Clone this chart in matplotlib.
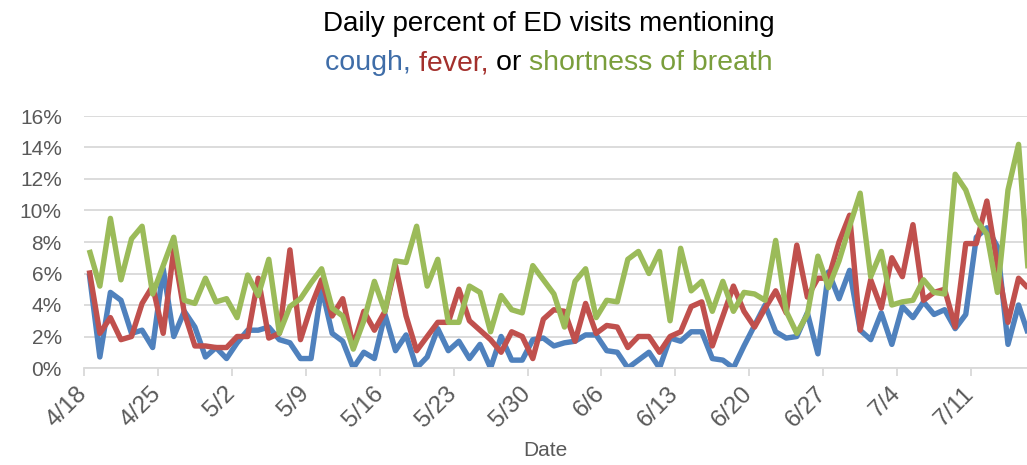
import pandas as pd
import matplotlib
matplotlib.use("Agg")
import matplotlib.pyplot as plt

plt.rcParams["font.family"] = ["Liberation Sans", "DejaVu Sans"]

START = "2020-04-18"

# daily % of ED visits (4/18 onward)
cough = [6.0, 0.7, 4.8, 4.3, 2.2, 2.4, 1.3, 6.3, 2.0, 3.6,
         2.6, 0.7, 1.3, 0.6, 1.6, 2.4, 2.4, 2.6, 1.8, 1.6,
         0.6, 0.6, 5.1, 2.2, 1.7, 0.0, 1.0, 0.6, 3.4, 1.1,
         2.1, 0.0, 0.7, 2.5, 1.1, 1.7, 0.6, 1.5, 0.0, 2.0,
         0.5, 0.5, 1.8, 1.9, 1.4, 1.6, 1.7, 2.1, 2.1, 1.1,
         1.0, 0.0, 0.5, 1.0, 0.0, 1.9, 1.7, 2.3, 2.3, 0.6,
         0.5, 0.0, 1.4, 2.7, 4.0, 2.3, 1.9, 2.0, 3.5, 0.9,
         6.1, 4.4, 6.2, 2.4, 1.8, 3.5, 1.5, 3.9, 3.2, 4.2,
         3.4, 3.7, 2.5, 3.4, 8.3, 8.9, 7.7, 1.5, 4.0, 2.0]
fever = [6.2, 2.2, 3.2, 1.8, 2.0, 4.1, 5.2, 2.2, 7.5, 3.5,
         1.4, 1.4, 1.3, 1.3, 2.0, 2.0, 5.7, 1.9, 2.2, 7.5,
         1.8, 3.9, 5.6, 3.3, 4.4, 1.4, 3.6, 2.4, 3.6, 6.5,
         3.3, 1.1, 2.0, 2.9, 2.9, 5.0, 3.0, 2.4, 1.8, 1.0,
         2.3, 2.0, 0.6, 3.1, 3.7, 3.6, 1.7, 4.1, 2.2, 2.7,
         2.6, 1.3, 2.0, 2.0, 1.0, 2.0, 2.3, 3.9, 4.2, 1.4,
         3.3, 5.2, 3.6, 2.6, 3.8, 4.9, 3.5, 7.8, 4.5, 5.7,
         5.7, 8.0, 9.7, 2.4, 5.6, 3.8, 7.0, 5.8, 9.1, 4.3,
         4.8, 5.0, 2.6, 7.9, 7.9, 10.6, 6.5, 2.9, 5.7, 5.0]
breath = [7.5, 5.2, 9.5, 5.6, 8.2, 9.0, 4.7, 6.5, 8.3, 4.3,
          4.1, 5.7, 4.2, 4.4, 3.2, 5.9, 4.6, 6.9, 2.2, 3.9,
          4.4, 5.4, 6.3, 3.8, 3.3, 1.2, 3.0, 5.5, 3.6, 6.8,
          6.7, 9.0, 5.2, 6.9, 2.9, 2.9, 5.2, 4.8, 2.3, 4.6,
          3.7, 3.5, 6.5, 5.6, 4.7, 2.6, 5.5, 6.3, 3.2, 4.3,
          4.2, 6.9, 7.4, 6.0, 7.4, 3.0, 7.6, 4.9, 5.5, 3.6,
          5.5, 3.6, 4.8, 4.7, 4.3, 8.1, 3.6, 2.2, 3.4, 7.1,
          5.1, 6.8, 9.0, 11.1, 5.8, 7.4, 4.0, 4.2, 4.3, 5.6,
          4.8, 4.7, 12.3, 11.3, 9.4, 8.5, 4.8, 11.3, 14.2, 5.4]

tick_labels = ["4/18", "4/25", "5/2", "5/9", "5/16", "5/23", "5/30",
               "6/6", "6/13", "6/20", "6/27", "7/4", "7/11"]
y_ticks = [0, 2, 4, 6, 8, 10, 12, 14, 16]

BLUE, RED, GREEN = "#4F81BD", "#C0504D", "#9BBB59"
TXT_BLUE, TXT_RED, TXT_GREEN = "#3F6DA8", "#A3302C", "#7A9E3C"
GRAY = "#595959"

days = pd.date_range(START, periods=len(cough), freq="D")
x = days + pd.Timedelta(hours=12)  # points sit mid-day, like Excel
ticks = pd.date_range(START, periods=len(tick_labels), freq="7D")

W, H = 1027, 465
fig = plt.figure(figsize=(W / 100, H / 100), dpi=100)
ax = fig.add_axes([84 / W, 1 - 368 / H, 1 - 84 / W, (368 - 116) / H])

for vals, c in ((cough, BLUE), (fever, RED), (breath, GREEN)):
    ax.plot(x, vals, color=c, lw=3.9, solid_capstyle="butt")

ax.set_xlim(days[0], days[0] + pd.Timedelta(days=89.3))
ax.set_ylim(0, 16)
ax.set_yticks(y_ticks)
ax.set_yticklabels([f"{v}%" for v in y_ticks])
ax.set_xticks(ticks)
ax.set_xticklabels(tick_labels, rotation=45, ha="right", va="center",
                   rotation_mode="anchor")

ax.yaxis.grid(True, color="#D9D9D9", lw=1.3)
ax.set_axisbelow(True)
for s in ("top", "right", "left"):
    ax.spines[s].set_visible(False)
ax.spines["bottom"].set_color("#D9D9D9")
ax.spines["bottom"].set_linewidth(1.3)
ax.tick_params(axis="y", length=0, pad=16, labelsize=15, labelcolor=GRAY)
ax.tick_params(axis="x", length=6, width=1.3, color="#D9D9D9", pad=10,
               labelsize=17.5, labelcolor=GRAY)

fig.text(545 / W, 1 - 450 / H, "Date", ha="center", va="center",
         fontsize=15, color=GRAY)

# two-line title, second line coloured word by word
cx = 549 / W
fig.text(cx, 1 - 31 / H, "Daily percent of ED visits mentioning",
         ha="center", va="baseline", fontsize=20, color="black")
pieces = [("cough, ", TXT_BLUE), ("fever, ", TXT_RED), ("or ", "black"),
          ("shortness of breath", TXT_GREEN)]
r = fig.canvas.get_renderer()
texts = [fig.text(0, 1 - 70 / H, s, fontsize=20.5, color=c, va="baseline")
         for s, c in pieces]
widths = [t.get_window_extent(r).width for t in texts]
xpos = cx * W - sum(widths) / 2
for t, w in zip(texts, widths):
    t.set_x(xpos / W)
    xpos += w

fig.savefig("out.png", dpi=100)
